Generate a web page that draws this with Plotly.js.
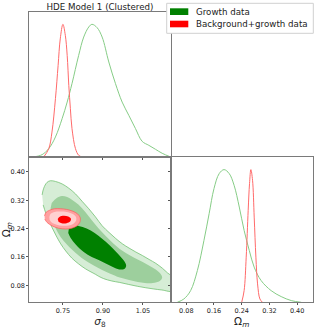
<!DOCTYPE html>
<html><head><meta charset="utf-8">
<script src="https://cdn.plot.ly/plotly-3.0.1.min.js"></script>
<style>html,body{margin:0;padding:0;background:#fff;} #chart{width:316px;height:329px;}</style>
</head><body><div id="chart"></div>
<script>
// ---------- data ----------
const chartTitle = 'HDE Model 1 (Clustered)';
const seriesNames = ['Growth data', 'Background+growth data'];
const seriesColors = ['#008000', '#ff0000'];

const sigma8Ticks = [0.75, 0.90, 1.05];
const sigma8TickText = ['0.75', '0.90', '1.05'];
const omegaTicks = [0.08, 0.16, 0.24, 0.32, 0.40];
const omegaTickText = ['0.08', '0.16', '0.24', '0.32', '0.40'];

// 1D marginal: sigma8
const sigma8GridGrowth = [0.622, 0.647, 0.672, 0.697, 0.722, 0.747, 0.766, 0.784, 0.809, 0.828, 0.847, 0.859, 0.878, 0.897, 0.922, 0.947, 0.972, 0.997, 1.022, 1.047, 1.072, 1.097, 1.122, 1.154];
const sigma8ProbGrowth = [0, 0.003, 0.018, 0.063, 0.151, 0.289, 0.414, 0.553, 0.766, 0.904, 0.98, 1.0, 0.975, 0.904, 0.716, 0.553, 0.414, 0.314, 0.214, 0.118, 0.088, 0.058, 0.028, 0];
const sigma8GridBoth = [0.678, 0.697, 0.709, 0.722, 0.732, 0.740, 0.750, 0.759, 0.766, 0.772, 0.778, 0.784, 0.797, 0.809, 0.822];
const sigma8ProbBoth = [0, 0.063, 0.188, 0.44, 0.69, 0.89, 1.0, 0.917, 0.766, 0.54, 0.364, 0.214, 0.063, 0.013, 0];

// 1D marginal: Omega_m
const omegaGridGrowth = [0.054, 0.073, 0.0925, 0.112, 0.131, 0.146, 0.160, 0.175, 0.189, 0.204, 0.218, 0.233, 0.247, 0.262, 0.276, 0.296, 0.325, 0.354, 0.383, 0.412];
const omegaProbGrowth = [0, 0.025, 0.088, 0.239, 0.466, 0.668, 0.857, 0.97, 1.0, 0.97, 0.882, 0.718, 0.542, 0.39, 0.265, 0.164, 0.088, 0.043, 0.013, 0];
const omegaGridBoth = [0.240, 0.247, 0.253, 0.2587, 0.2626, 0.2665, 0.2713, 0.2761, 0.281, 0.2858, 0.2926, 0.300];
const omegaProbBoth = [0, 0.088, 0.34, 0.693, 0.894, 1.0, 0.92, 0.642, 0.34, 0.139, 0.025, 0];

// 2D contours (sigma8, Omega_m) - growth data
const growthOuterS = [0.672,0.678,0.690,0.703,0.722,0.747,0.772,0.797,0.822,0.847,0.872,0.897,0.923,0.948,0.973,0.998,1.023,1.048,1.073,1.098,1.123,1.142,1.165,
  1.165,1.1205,1.091,1.061,1.0305,0.997,0.963,0.933,0.903,0.884,0.873,0.859,0.8355,0.809,0.783,0.7605,0.742,0.725,0.710,0.697,0.6855,0.676];
const growthOuterOm = [0.335,0.354,0.370,0.375,0.373,0.366,0.354,0.338,0.317,0.296,0.273,0.248,0.229,0.212,0.197,0.185,0.174,0.164,0.153,0.142,0.128,0.115,0.100,
  0.064,0.0668,0.0696,0.073,0.077,0.0823,0.088,0.0922,0.0987,0.1055,0.1105,0.1162,0.126,0.1402,0.157,0.1769,0.1967,0.2193,0.2419,0.2644,0.2842,0.3068];
const growthMidS = [0.708,0.727,0.7455,0.766,0.785,0.809,0.834,0.859,0.884,0.9105,0.937,0.963,0.989,1.019,1.049,1.0755,1.098,1.115,1.122,1.113,1.087,1.057,1.0305,0.998,0.963,0.9255,0.897,0.869,0.843,0.8205,0.798,0.7755,0.753,0.732,0.7155,0.706,0.704];
const growthMidOm = [0.3125,0.3266,0.332,0.329,0.321,0.307,0.287,0.263,0.2404,0.219,0.1995,0.1826,0.170,0.157,0.146,0.1345,0.1247,0.1134,0.102,0.092,0.0865,0.0865,0.0894,0.095,0.102,0.1134,0.1232,0.1345,0.146,0.157,0.1713,0.1868,0.2051,0.2277,0.253,0.2786,0.298];
const growthInnerS = [0.772,0.787,0.809,0.839,0.869,0.897,0.924,0.948,0.967,0.982,0.987,0.980,0.961,0.937,0.9105,0.884,0.858,0.828,0.798,0.779,0.770];
const growthInnerOm = [0.239,0.2475,0.2475,0.2404,0.2277,0.211,0.194,0.1755,0.160,0.146,0.1345,0.126,0.1247,0.1317,0.1416,0.1515,0.160,0.174,0.1953,0.2136,0.2277];

// 2D contours - background+growth data
const bothOuterS = [0.681,0.687,0.701,0.719,0.742,0.764,0.787,0.8055,0.815,0.813,0.802,0.783,0.7605,0.734,0.710,0.691,0.682];
const bothOuterOm = [0.276,0.286,0.292,0.296,0.296,0.294,0.289,0.281,0.270,0.257,0.2475,0.241,0.239,0.241,0.2475,0.257,0.267];
const bothMidS = [0.699,0.704,0.719,0.742,0.764,0.785,0.798,0.800,0.7905,0.772,0.749,0.727,0.708,0.700];
const bothMidOm = [0.273,0.282,0.287,0.288,0.287,0.282,0.274,0.2645,0.2546,0.249,0.248,0.251,0.257,0.265];
const bothInnerS = [0.7305,0.738,0.753,0.770,0.780,0.777,0.764,0.7455,0.7335];
const bothInnerOm = [0.267,0.2735,0.276,0.274,0.268,0.260,0.2554,0.255,0.259];

// ---------- layout geometry ----------
const W = 316, H = 329;
const sigma8Range = [0.624, 1.154];
const omegaRangeY = [0.032, 0.442];
const omegaRangeX = [0.035, 0.445];
const densRange = [0, 1.095];
const xL = [29.3 / W, 170.7 / W], xR = [170.7 / W, 312.7 / W];
const yT = [1 - 157 / H, 1 - 11.7 / H], yB = [1 - 302.3 / H, 1 - 157 / H];

const lineGreen = '#86cc86', lineRed = '#ff6a6a';
const traces = [
  {x: sigma8GridGrowth, y: sigma8ProbGrowth, xaxis: 'x', yaxis: 'y', mode: 'lines', line: {color: lineGreen, width: 1, shape: 'spline'}, name: seriesNames[0]},
  {x: sigma8GridBoth, y: sigma8ProbBoth, xaxis: 'x', yaxis: 'y', mode: 'lines', line: {color: lineRed, width: 1, shape: 'spline'}, name: seriesNames[1]},
  {x: omegaGridGrowth, y: omegaProbGrowth, xaxis: 'x3', yaxis: 'y3', mode: 'lines', line: {color: lineGreen, width: 1, shape: 'spline'}, name: seriesNames[0]},
  {x: omegaGridBoth, y: omegaProbBoth, xaxis: 'x3', yaxis: 'y3', mode: 'lines', line: {color: lineRed, width: 1, shape: 'spline'}, name: seriesNames[1]},
];
function contour(xs, ys, fill, lineColor, lw) {
  return {x: xs, y: ys, xaxis: 'x2', yaxis: 'y2', mode: 'lines', fill: 'toself', fillcolor: fill,
    line: {color: lineColor, width: lw, shape: 'spline', smoothing: 1}, hoverinfo: 'skip'};
}
traces.push(contour(growthOuterS, growthOuterOm, '#d6edd6', '#74c274', 0.8));
traces.push(contour(growthMidS, growthMidOm, '#9dcf9d', 'rgba(0,0,0,0)', 0));
traces.push(contour(growthInnerS, growthInnerOm, seriesColors[0], 'rgba(0,0,0,0)', 0));
traces.push(contour(bothOuterS, bothOuterOm, '#ffa0a0', '#ff5a5a', 0.7));
traces.push(contour(bothMidS, bothMidOm, '#ffd0d0', 'rgba(0,0,0,0)', 0));
traces.push(contour(bothInnerS, bothInnerOm, seriesColors[1], 'rgba(0,0,0,0)', 0));

const axisBase = {showgrid: false, zeroline: false, showline: true, linecolor: '#7a7a7a', linewidth: 1, mirror: true,
  ticks: 'outside', ticklen: 2, tickwidth: 1, tickcolor: '#555', tickfont: {size: 6.5, color: '#222'}, fixedrange: true};
const densTickVals = omegaTicks.map(v => (v - omegaRangeY[0]) / (omegaRangeY[1] - omegaRangeY[0]) * densRange[1]);

const titleFont = {size: 10.5, color: '#222'};
const layout = {
  width: W, height: H, margin: {l: 0, r: 0, t: 0, b: 0}, showlegend: false,
  paper_bgcolor: '#fff', plot_bgcolor: '#fff',
  font: {family: 'DejaVu Sans, sans-serif', color: '#222'},
  title: {text: chartTitle, x: 100 / W, xanchor: 'center', y: 1 - 6.7 / H, yanchor: 'middle', font: {size: 8.7, color: '#222'}},
  xaxis: Object.assign({}, axisBase, {domain: xL, anchor: 'y', range: sigma8Range, tickvals: sigma8Ticks, showticklabels: false}),
  yaxis: Object.assign({}, axisBase, {domain: yT, anchor: 'x', range: densRange, ticks: '', showticklabels: false}),
  xaxis2: Object.assign({}, axisBase, {domain: xL, anchor: 'y2', range: sigma8Range, tickvals: sigma8Ticks, ticktext: sigma8TickText,
    title: {text: '<i>σ</i><sub>8</sub>', font: titleFont, standoff: 5}}),
  yaxis2: Object.assign({}, axisBase, {domain: yB, anchor: 'x2', range: omegaRangeY, tickvals: omegaTicks, ticktext: omegaTickText,
    title: {text: 'Ω<sub><i>m</i></sub>', font: titleFont, standoff: 3}}),
  xaxis3: Object.assign({}, axisBase, {domain: xR, anchor: 'y3', range: omegaRangeX, tickvals: omegaTicks, ticktext: omegaTickText,
    title: {text: 'Ω<sub><i>m</i></sub>', font: titleFont, standoff: 5}}),
  yaxis3: Object.assign({}, axisBase, {domain: yB, anchor: 'x3', range: densRange, tickvals: densTickVals, showticklabels: false}),
  shapes: [
    {type: 'rect', xref: 'paper', yref: 'paper', x0: 166.7 / W, x1: 313.3 / W, y0: 1 - 33.3 / H, y1: 1 - 3.3 / H,
      fillcolor: '#fff', line: {color: '#d0d0d0', width: 1}, layer: 'above'},
    {type: 'rect', xref: 'paper', yref: 'paper', x0: 170 / W, x1: 188.3 / W, y0: 1 - 15 / H, y1: 1 - 8.3 / H,
      fillcolor: seriesColors[0], line: {width: 0}, layer: 'above'},
    {type: 'rect', xref: 'paper', yref: 'paper', x0: 170 / W, x1: 188.3 / W, y0: 1 - 27.3 / H, y1: 1 - 20.7 / H,
      fillcolor: seriesColors[1], line: {width: 0}, layer: 'above'}
  ],
  annotations: [
    {text: seriesNames[0], xref: 'paper', yref: 'paper', x: 193.5 / W, y: 1 - 11.7 / H, xanchor: 'left', yanchor: 'middle', showarrow: false, font: {size: 8.7, color: '#222'}},
    {text: seriesNames[1], xref: 'paper', yref: 'paper', x: 193.5 / W, y: 1 - 24 / H, xanchor: 'left', yanchor: 'middle', showarrow: false, font: {size: 8.7, color: '#222'}}
  ]
};
Plotly.newPlot('chart', traces, layout, {staticPlot: true, displayModeBar: false});
</script>
</body></html>
